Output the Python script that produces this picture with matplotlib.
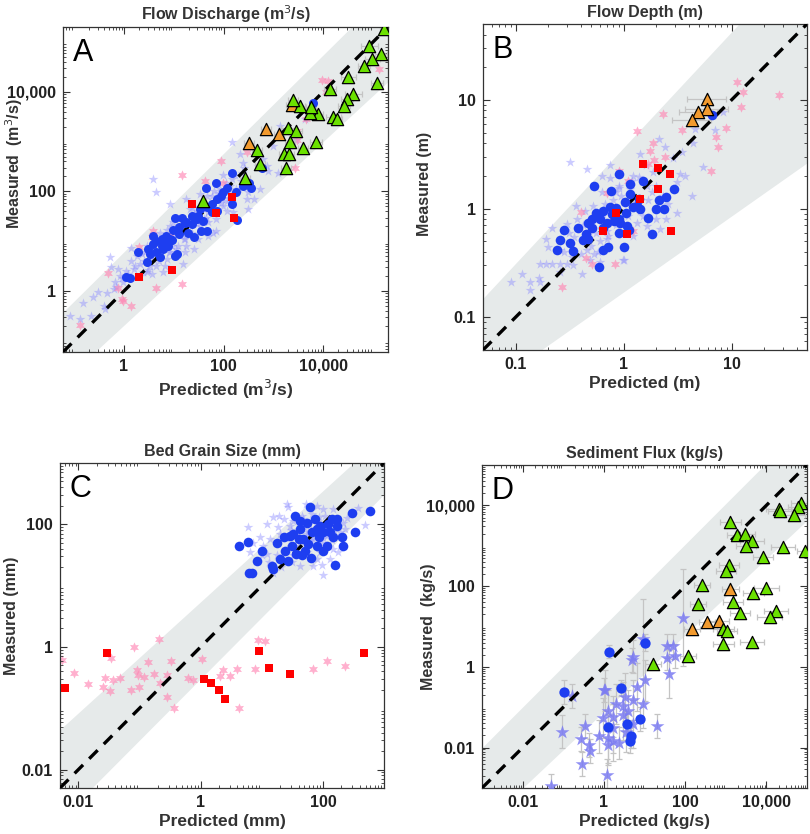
import numpy as np
import matplotlib
matplotlib.use("Agg")
import matplotlib.pyplot as plt
from matplotlib.ticker import FixedLocator, FixedFormatter, LogLocator, NullFormatter

plt.rcParams['font.family'] = ['Liberation Sans', 'DejaVu Sans']

# ---------------- Panel A : Flow discharge (m3/s) ----------------
A_star_pred = [0.083,0.15,0.22,0.24,0.39,0.42,0.52,0.56,0.77,0.83,0.97,1.4,1.4,2.1,2.4,2.6,3.3,3.6,3.9,4.5,6.2,6.6,7.2,8.4,9.1,15.5,17,18,23,34,46,62,72,98,115,145,158,214,250,290,316,400,540,500,630,730,790,1260,1350,1000,4300,2900,17,25,23,34,31,85,115,135,230,316,200,72,49,49,21,13,9.8,8.4,5.3,4.2,2.9,2.3,1.8,1.7,1.2,0.66,0.62,0.3,0.13,4.5,7.2,8.4,3.9,2.9,2.1,18,49,170,98,
               2.5,3,4,5,6,8,10,12,14,16,20,25,30,35,40,50,60,70,80,90,110,130,150,180,220,260,3.5,5.5,11,19,28,45,65,95,140,1.6,1.1,0.7,0.45,0.9]
A_star_meas = [0.32,0.59,0.32,0.75,0.51,0.44,4.8,3,2.8,2,1.5,7.5,4.1,3.5,2.4,6,3.2,2.2,178,96,2.4,3.2,17,56,8.1,3.5,11,70,48,89,82,15,16,52,41,970,38,560,380,70,44,70,112,330,450,330,260,240,2100,830,2800,1100,6,7,15,20,11,112,65,130,240,96,112,28,39,24,44,28,24,20,15,11,8.1,5.5,5.1,3.2,2.2,1.5,1.1,0.94,0.27,3.2,4.4,6,4.4,2.4,2,8.1,13,210,210,
               4,2.6,6.5,4,9,6,14,8,20,11,14,35,22,50,28,45,80,40,95,60,150,75,180,110,160,300,5,8,7,25,40,30,100,70,90,2.8,2.5,1.2,0.9,1.8]
A_pink_pred = [14.5,43,91,98,290,14.5,4.5,3.9,3.6,2,0.49,0.9,0.77,0.97,1.36,0.13,9300,12600,11500,135000,4500,3000,3000,2700,8.4]
A_pink_meas = [217,165,415,148,630,1.4,1.13,16,12,7.8,2.3,0.71,1.13,0.64,0.51,0.21,17000,16600,9800,29000,2800,1600,1100,300,13]
A_circle_pred = [6300,580,355,330,250,148,182,190,70,44,98,145,73,58,46,34,23,29,18,39,46,36,26,19.5,13,9.8,10.5,9.1,7,5.7,4.5,3.9,3.8,3.1,3.3,4.5,6.2,7.8,11.4,10.5,5.3,2.9,1.9,1.1,1.3,15,73,115,91,58,31,23,17,13,8.4,5.7,6.6]
A_circle_meas = [5900,290,120,150,126,234,96,27,148,117,96,56,70,56,48,44,32,28,24,26,16,16,12.3,15,14,17,29,10.5,13,11,10,13,8.8,7,5.5,6,7,8.1,5.5,5,4.8,3.9,6,1.9,1.8,29,41,117,81,39,32,22,23,19,11,8.1,9.5]
A_square_pred = [23,148,71,165,9.3,2]
A_square_meas = [57,78,37,29,2.6,1.9]
A_orange_pred = [700,2400,1300,320]
A_orange_meas = [1800,5400,1400,930]
A_orange_xerr_dec = [0.1,0.12,0.1,0.1]
A_green_pred = [1.7e5,8.5e4,1.45e5,9.7e4,6.6e4,1.2e5,3.2e4,1.4e4,4e4,3e4,2.6e4,1.6e4,1.9e4,8e3,5.4e3,5.6e3,3.5e3,2.5e3,2e3,2.8e3,2.2e3,7.2e3,3.9e3,1.6e3,2.1e3,460,540,1.8e3,275,39]
A_green_meas = [1.8e5,8.5e4,5.8e4,4.6e4,3.3e4,1.5e4,2e4,1.15e4,9e3,7.2e3,5.1e3,3.1e3,2.9e3,3.6e3,3.7e3,5e3,5.1e3,6.9e3,1.9e3,1.6e3,970,970,760,560,560,690,350,290,185,63]
A_green_xerr_dec = [0.1,0.17,0.12,0.15,0.12,0.12,0.15,0.12,0.17,0.12,0.12,0.15,0.1,0.1,0.1,0.1,0.1,0.1,0.15,0.12,0.1,0.12,0.1,0.1,0.1,0.1,0.1,0.1,0.1,0.05]

# ---------------- Panel B : Flow depth (m) ----------------
B_star_pred = [0.32,0.46,0.09,0.114,0.136,0.136,0.166,0.17,0.17,0.19,0.22,0.26,0.3,0.19,0.2,0.22,0.3,0.26,0.34,0.41,0.49,0.53,0.46,0.6,0.98,0.72,0.75,0.63,0.75,1.42,2.15,2.4,2.9,3.5,3.3,3.7,3.1,4.3,4.4,5.5,7.0,8.4,4.6,2.2,3.1,2.5,1.0,0.26,0.31,0.37,0.44,0.52,0.63,0.86,0.9,1.23,1.64,1.89,1.82,1.64,1.32,2.0,1.23,0.7,0.56,0.36,1.42,
               0.35,0.42,0.5,0.55,0.65,0.7,0.8,0.85,0.95,1.1,1.2,1.3,1.5,1.7,2.0,2.3,0.4,0.6,0.9,1.05,1.4,0.28,0.33,0.48,0.58,0.68,0.78,1.15,1.6,2.6]
B_star_meas = [2.7,2.3,0.21,0.25,0.21,0.18,0.23,0.21,0.31,0.31,0.31,0.31,0.31,0.52,0.44,0.67,0.72,0.42,0.3,0.25,0.34,0.38,0.42,0.32,0.34,0.56,1.9,2.0,2.5,3.2,4.4,3.7,2.9,3.3,2.1,2.0,1.75,1.3,4.0,2.4,5.3,7.8,5.4,0.65,0.92,0.8,0.34,0.26,0.6,0.8,0.95,1.06,1.41,1.41,1.63,2.0,1.63,2.16,1.41,0.69,0.74,0.8,0.56,0.52,0.6,1.06,0.95,
               0.55,0.7,0.45,0.85,0.9,0.62,1.2,0.7,1.3,0.85,1.8,1.15,0.85,1.2,1.6,1.3,0.38,0.5,1.55,0.6,1.95,0.4,0.36,0.62,0.4,1.1,0.95,1.5,2.5,1.1]
B_pink_pred = [1.32,2.3,1.86,1.76,2.4,1.7,3.5,11.2,12.7,12.2,27.7,8.9,7.2,7.5,6.5,0.27,0.83,0.4,1.23,0.51,0.9,1.1,0.45,0.7,1.9]
B_pink_meas = [5.2,7.5,4.0,3.4,3.0,2.6,5.3,14.7,11.9,8.6,11.1,5.5,4.6,3.7,2.2,0.19,0.31,0.94,0.62,0.31,2.2,1.8,0.35,1.4,2.8]
B_circle_pred = [6.6,0.91,0.53,0.76,1.15,1.5,2.95,2.5,2.15,1.16,1.4,1.32,1.04,1.22,1.42,1.05,0.86,0.75,0.78,0.65,0.56,0.51,0.6,0.7,0.82,0.93,1.07,1.12,0.9,0.64,0.51,0.47,0.38,0.45,0.42,0.47,0.32,0.28,0.26,0.24,0.34,0.64,0.72,1.0,1.82,1.67,2.0,2.37,0.59,0.9]
B_circle_meas = [7.2,2.1,1.6,1.44,1.7,1.8,1.5,1.27,1.2,1.36,1.22,1.06,1.14,1.03,1.0,0.92,1.01,1.03,0.89,0.95,0.92,0.8,0.81,0.74,0.77,0.74,0.69,0.63,0.6,0.66,0.67,0.74,0.66,0.58,0.51,0.52,0.48,0.63,0.51,0.42,0.41,0.42,0.44,0.44,0.59,0.82,0.99,1.0,0.29,0.8]
B_square_pred = [1.5,2.1,2.7,2.1,1.42,2.75,1.07,0.64,0.86]
B_square_meas = [2.6,2.35,2.1,1.5,1.22,0.62,0.59,0.62,0.92]
B_orange_pred = [5.9,5.9,4.9,4.3]
B_orange_meas = [10.3,8.2,7.8,6.5]
B_orange_xerr_dec = [0.18,0.2,0.18,0.18]

# ---------------- Panel C : Bed grain size (mm) ----------------
C_star_pred = [6.0,6.4,12,15.5,18.7,26,27,53,66,102,10.6,12.9,15.5,21,31,42,70,96,131,180,231,382,491,245,149,102,109,79,45,33,20,13.7,12,18,26,33,54,90,149,191,131,58,70,29,23,19,9.4,7.3,10,79,116,217,42,
               30,40,50,60,80,100,120,150,35,45,55,65,85,110,25,38,48,75,95,140]
C_star_meas = [89,35,101,130,92,214,189,214,147,15,45,24,16,20,24,21,21,22,27,35,84,182,97,126,177,177,138,200,138,114,69,57,33,31,39,31,35,35,39,74,122,74,57,95,122,138,61,50,31,27,65,107,50,
               80,60,90,100,110,60,90,80,45,100,70,55,130,100,60,75,120,80,50,55]
C_pink_pred = [0.0053,0.0086,0.0146,0.025,0.027,0.033,0.034,0.037,0.048,0.073,0.081,0.09,0.096,0.098,0.12,0.136,0.17,0.21,0.22,0.28,0.28,0.33,0.37,0.63,0.76,1.04,2.08,2.35,3.0,3.9,4.2,7.8,8.6,11.3,70,116,231]
C_pink_meas = [0.61,0.38,0.25,0.22,0.31,0.19,0.66,0.29,0.31,0.2,1.0,0.42,0.35,0.22,0.32,0.56,0.36,1.37,0.26,0.35,0.15,0.6,0.1,0.31,0.29,0.64,0.33,0.42,0.33,0.43,0.1,0.44,1.32,1.24,0.43,0.58,0.48]
C_circle_pred = [4.2,6.0,6.3,6.9,8.3,10,14.6,15.5,20,23,27,31,33,35,37,42,48,51,54,62,66,75,79,85,90,102,116,123,140,149,169,204,217,158,297,337,592,40,58,45,63,102,29,42,79,131,169,24,18]
C_circle_meas = [45,52,16,16,25,37,21,18.5,27,61,25,45,69,135,33,84,57,37,107,189,74,122,45,61,95,74,45,101,122,61,122,61,45,22,152,76,162,57,47,31,28,37,65,114,84,74,95,37,50]
C_square_pred = [0.006,0.029,9.0,12.9,29,1.15,1.48,2.0,2.5,472]
C_square_meas = [0.21,0.8,0.85,0.45,0.36,0.3,0.26,0.2,0.14,0.8]

# ---------------- Panel D : Sediment flux (kg/s) ----------------
D_star_pred = [0.095,0.166,0.27,0.35,0.44,0.46,0.78,0.93,1.0,1.23,1.29,1.29,1.66,1.7,2.4,3.0,3.0,3.3,4.0,5.3,5.3,5.0,5.3,6.5,9.4,10.2,9.0,20,35,36,51,56,41,91,2.0,1.07,1.7,3.6,0.29,1.2,0.05]
D_star_meas = [0.025,0.19,0.016,0.034,0.0115,0.0081,0.019,0.054,0.27,0.017,0.0115,0.083,0.059,0.03,0.013,0.063,0.105,0.18,0.083,0.15,0.039,1.48,1.8,0.32,0.123,0.46,4.9,0.035,1.66,3.3,3.2,1.9,0.66,16.6,0.12,0.26,0.015,0.025,0.0039,0.0021,0.0011]
D_star_yerr_dec = [0.4,0.3,0.3,0.3,0.3,0.3,0.4,0.5,0.3,0.6,0.5,0.5,0.5,0.6,0.4,0.6,0.6,0.6,0.5,0.5,0.6,0.3,0.4,0.6,0.6,0.5,1.0,0.3,0.3,0.3,0.3,0.3,0.6,1.2,0.5,0.5,0.5,0.5,0.3,0.4,0.3]
D_circle_pred = [0.107,1.37,10.5,2.6,1.29,3.8,7.8,4.7,4.3]
D_circle_meas = [0.234,2.4,4.0,0.3,0.032,0.039,0.052,0.0195,0.015]
D_circle_yerr_dec = [0.3,0.15,0.2,0.2,0.3,0.3,0.3,0.3,0.3]
D_orange_pred = [1300,340,670,145]
D_orange_meas = [83,13,13.8,8.5]
D_orange_xerr_dec = [0.2,0.2,0.25,0.2]
D_green_pred = [7.1e4,5.9e4,4.9e4,2e4,2.2e4,9.1e4,2.6e4,8.1e3,1.3e3,1.9e3,3e3,4.4e3,3.1e3,1.2e3,1e3,265,205,1.5e3,2.2e3,4.8e3,1e4,1.75e4,1.2e4,880,1.06e3,880,4.4e3,120,16]
D_green_meas = [1.17e4,8.9e3,5.9e3,8.1e3,7.2e3,760,910,520,3.8e3,1.8e3,2e3,1.3e3,970,340,240,105,37,40,21,66,88,24,17,8.5,7.7,3.6,4.1,1.9,1.18]
D_green_xerr_dec = [0.25,0.25,0.25,0.3,0.3,0.2,0.3,0.25,0.25,0.25,0.25,0.3,0.25,0.25,0.25,0.2,0.2,0.25,0.25,0.25,0.3,0.3,0.3,0.25,0.25,0.25,0.3,0.2,0.2]

# ---------------- axis settings ----------------
titles = ['Flow Discharge (m$^3$/s)', 'Flow Depth (m)', 'Bed Grain Size (mm)', 'Sediment Flux (kg/s)']
xlabels = ['Predicted (m$^3$/s)', 'Predicted (m)', 'Predicted (mm)', 'Predicted (kg/s)']
ylabels = ['Measured  (m$^3$/s)', 'Measured (m)', 'Measured (mm)', 'Measured  (kg/s)']
letters = ['A', 'B', 'C', 'D']
limits = [(0.06, 2e5), (0.05, 50), (0.005, 1000), (0.001, 1e5)]
tick_vals = [[1, 100, 10000], [0.1, 1, 10], [0.01, 1, 100], [0.01, 1, 100, 10000]]
tick_labels = [['1', '100', '10,000'], ['0.1', '1', '10'], ['0.01', '1', '100'], ['0.01', '1', '100', '10,000']]
# band edges (pairs of points, data units)
band_upper = [[(0.06, 0.38), (3.5e4, 1.9e5)], [(0.052, 0.156), (11.7, 50)],
              [(0.005, 0.045), (316, 1000)], [(0.001, 0.01), (8900, 1e5)]]
band_lower = [[(0.29, 0.066), (2e5, 1.6e4)], [(0.163, 0.048), (49, 2.6)],
              [(0.0166, 0.005), (1000, 309)], [(0.01, 0.001), (1e5, 4270)]]

positions = [[63/810, 1-352/834, 325/810, 325/834], [483/810, 1-350/834, 324/810, 326/834],
             [60/810, 1-788/834, 324/810, 325/834], [482/810, 1-788/834, 325/810, 323/834]]
ylabel_coords = [(-0.118, 0.58), (-0.157, 0.51), (-0.125, 0.53), (-0.142, 0.50)]

C_LSTAR = '#8c8cff'
C_PINK = '#ff86b4'
C_BLUE = '#1e3ef0'
C_RED = '#ff0000'
C_ORANGE = '#f29a2e'
C_GREEN = '#6be000'
C_BAND = '#e6eaea'
C_ERR = '#c4c4c4'
HEX = (6, 1, 0)

fig = plt.figure(figsize=(8.1, 8.34), dpi=100)
axes = [fig.add_axes(p) for p in positions]


def draw_band(ax, up, lo, lim):
    lx = np.linspace(np.log10(lim[0]), np.log10(lim[1]), 300)

    def line(pts):
        (x0, y0), (x1, y1) = np.log10(np.array(pts))
        return y0 + (y1 - y0) * (lx - x0) / (x1 - x0)
    ax.fill_between(10**lx, 10**line(lo), 10**line(up), color=C_BAND, lw=0, zorder=0)


def xerrbars(ax, x, y, dec, z=2):
    x = np.array(x); y = np.array(y); d = 10**np.array(dec)
    ax.errorbar(x, y, xerr=[x - x/d, x*d - x], fmt='none', ecolor=C_ERR, elinewidth=0.9,
                capsize=2, capthick=0.9, zorder=z)


def yerrbars(ax, x, y, dec, z=2):
    x = np.array(x); y = np.array(y); d = 10**np.array(dec)
    ax.errorbar(x, y, yerr=[y - y/d, y*d - y], fmt='none', ecolor=C_ERR, elinewidth=0.9,
                capsize=2, capthick=0.9, zorder=z)


for i, ax in enumerate(axes):
    lim = limits[i]
    ax.set_xscale('log'); ax.set_yscale('log')
    ax.set_xlim(lim); ax.set_ylim(lim)
    draw_band(ax, band_upper[i], band_lower[i], lim)
    ax.plot(lim, lim, color='black', lw=2.4, dashes=(3.6, 2.6), zorder=3.5)

# Panel A
ax = axes[0]
ax.scatter(A_star_pred, A_star_meas, marker='*', s=55, color=C_LSTAR, alpha=0.45, lw=0, zorder=1)
ax.scatter(A_pink_pred, A_pink_meas, marker=HEX, s=55, color=C_PINK, alpha=0.65, lw=0, zorder=1.2)
ax.scatter(A_circle_pred, A_circle_meas, marker='o', s=42, color=C_BLUE, lw=0, zorder=4)
ax.scatter(A_square_pred, A_square_meas, marker='s', s=28, color=C_RED, lw=0, zorder=4.2)
xerrbars(ax, A_green_pred, A_green_meas, A_green_xerr_dec)
xerrbars(ax, A_orange_pred, A_orange_meas, A_orange_xerr_dec)
ax.scatter(A_orange_pred, A_orange_meas, marker='^', s=78, color=C_ORANGE, edgecolor='black', lw=0.9, zorder=5)
ax.scatter(A_green_pred, A_green_meas, marker='^', s=78, color=C_GREEN, edgecolor='black', lw=0.9, zorder=5)

# Panel B
ax = axes[1]
ax.scatter(B_star_pred, B_star_meas, marker='*', s=55, color=C_LSTAR, alpha=0.45, lw=0, zorder=1)
ax.scatter(B_pink_pred, B_pink_meas, marker=HEX, s=55, color=C_PINK, alpha=0.65, lw=0, zorder=1.2)
ax.scatter(B_circle_pred, B_circle_meas, marker='o', s=48, color=C_BLUE, lw=0, zorder=4)
ax.scatter(B_square_pred, B_square_meas, marker='s', s=30, color=C_RED, lw=0, zorder=4.2)
xerrbars(ax, B_orange_pred, B_orange_meas, B_orange_xerr_dec)
ax.scatter(B_orange_pred, B_orange_meas, marker='^', s=78, color=C_ORANGE, edgecolor='black', lw=0.9, zorder=5)

# Panel C
ax = axes[2]
ax.scatter(C_star_pred, C_star_meas, marker='*', s=55, color=C_LSTAR, alpha=0.45, lw=0, zorder=1)
ax.scatter(C_pink_pred, C_pink_meas, marker=HEX, s=55, color=C_PINK, alpha=0.65, lw=0, zorder=1.2)
ax.scatter(C_circle_pred, C_circle_meas, marker='o', s=48, color=C_BLUE, lw=0, zorder=4)
ax.scatter(C_square_pred, C_square_meas, marker='s', s=30, color=C_RED, lw=0, zorder=4.2)

# Panel D
ax = axes[3]
yerrbars(ax, D_star_pred, D_star_meas, D_star_yerr_dec)
yerrbars(ax, D_circle_pred, D_circle_meas, D_circle_yerr_dec)
xerrbars(ax, D_green_pred, D_green_meas, D_green_xerr_dec)
xerrbars(ax, D_orange_pred, D_orange_meas, D_orange_xerr_dec)
ax.scatter(D_star_pred, D_star_meas, marker='*', s=110, color='#7c7cf2', alpha=0.85, lw=0, zorder=3)
ax.scatter(D_circle_pred, D_circle_meas, marker='o', s=55, color=C_BLUE, lw=0, zorder=4)
ax.scatter(D_orange_pred, D_orange_meas, marker='^', s=78, color=C_ORANGE, edgecolor='black', lw=0.9, zorder=5)
ax.scatter(D_green_pred, D_green_meas, marker='^', s=78, color=C_GREEN, edgecolor='black', lw=0.9, zorder=5)

for i, ax in enumerate(axes):
    for axis in (ax.xaxis, ax.yaxis):
        axis.set_major_locator(FixedLocator(tick_vals[i]))
        axis.set_major_formatter(FixedFormatter(tick_labels[i]))
        axis.set_minor_locator(LogLocator(base=10, subs=np.arange(2, 10), numticks=30))
        axis.set_minor_formatter(NullFormatter())
    ax.tick_params(which='both', direction='in', top=True, right=True, color='#333333')
    ax.tick_params(which='major', length=5, width=0.8, labelsize=11.5, pad=5)
    ax.tick_params(which='minor', length=2.5, width=0.6)
    for lab in ax.get_xticklabels() + ax.get_yticklabels():
        lab.set_fontweight('bold')
        lab.set_color('#222222')
    for sp in ax.spines.values():
        sp.set_linewidth(0.9)
        sp.set_color('#333333')
    ax.set_title(titles[i], fontsize=11.5, fontweight='bold', color='#333333', pad=5)
    ax.set_xlabel(xlabels[i], fontsize=12.5, fontweight='bold', color='#333333', labelpad=3)
    ax.set_ylabel(ylabels[i], fontsize=11.5, fontweight='bold', color='#333333')
    ax.yaxis.set_label_coords(*ylabel_coords[i])
    ax.text(0.03, 0.965, letters[i], transform=ax.transAxes, fontsize=22, va='top', ha='left',
            color='black', zorder=6)

fig.savefig('out.png', dpi=100)
